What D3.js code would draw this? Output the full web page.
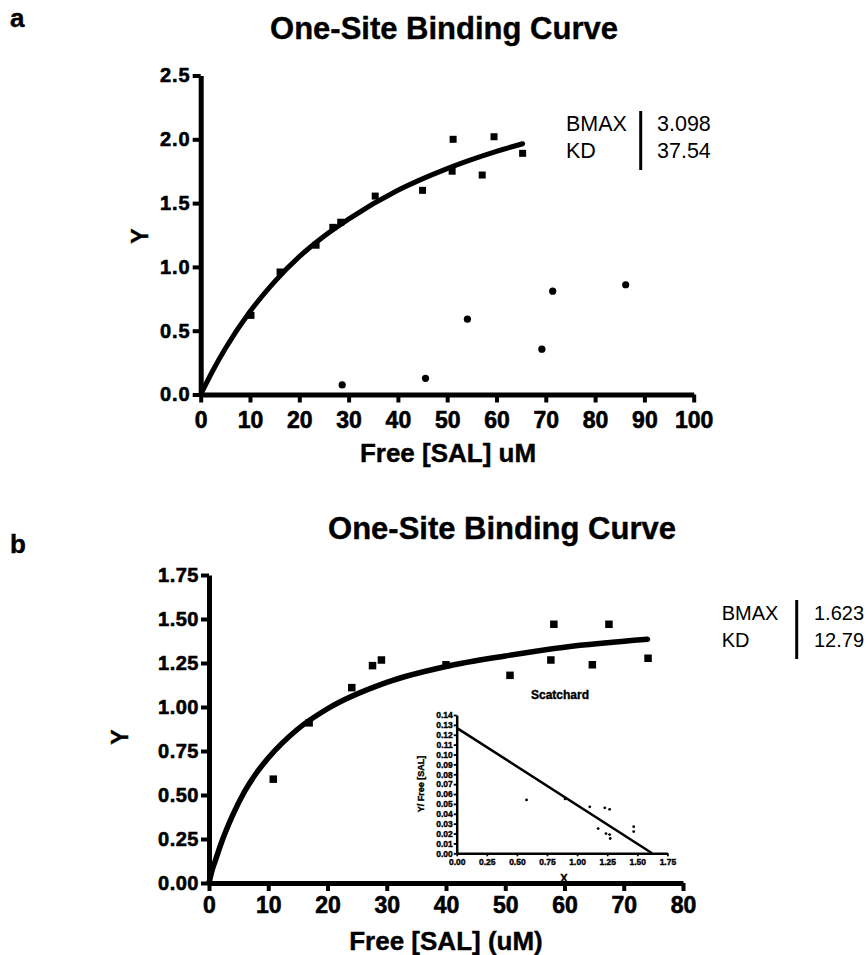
<!DOCTYPE html>
<html>
<head>
<title>One-Site Binding Curve</title>
<script src="https://d3js.org/d3.v7.min.js"></script>
<style>
body { margin: 0; background: #fff; }
text { font-family: "Liberation Sans", Arial, Helvetica, sans-serif; fill: #000; }
.axis path, .axis line { stroke: #000; }
.axis text { font-weight: bold; fill: #000; stroke: #000; stroke-width: 0.5px; }
.heavy { font-weight: bold; stroke: #000; stroke-width: 0.4px; }
</style>
</head>
<body>
<script>

// ---- panel a data ----
var titleA = "One-Site Binding Curve";
var xTicksA = [0, 10, 20, 30, 40, 50, 60, 70, 80, 90, 100];
var yTicksA = [0.0, 0.5, 1.0, 1.5, 2.0, 2.5];
var squaresA = [[10.2, 0.62], [16.1, 0.96], [23.4, 1.17], [26.8, 1.31], [28.4, 1.35],
	[35.4, 1.555], [45.0, 1.60], [51.2, 2.00], [51.0, 1.75], [57.1, 1.72],
	[59.5, 2.02], [65.3, 1.89]];
var circlesA = [[28.7, 0.075], [45.6, 0.127], [54.1, 0.59], [69.2, 0.355], [71.4, 0.81], [86.2, 0.86]];
var curveA = [[0, 0], [2.5, 0.19], [5, 0.36], [10, 0.65], [15, 0.885], [20, 1.08], [25, 1.24],
	[30, 1.375], [40, 1.60], [50, 1.77], [60, 1.905], [65.3, 1.965]];
var legendA = [["BMAX", "3.098"], ["KD", "37.54"]];

// ---- panel b data ----
var titleB = "One-Site Binding Curve";
var xTicksB = [0, 10, 20, 30, 40, 50, 60, 70, 80];
var yTicksB = [0.00, 0.25, 0.50, 0.75, 1.00, 1.25, 1.50, 1.75];
var squaresB = [[10.85, 0.59], [16.9, 0.91], [24.1, 1.11], [27.6, 1.235], [29.1, 1.267],
	[40.0, 1.24], [50.8, 1.18], [58.2, 1.47], [57.7, 1.267], [64.7, 1.24],
	[67.5, 1.47], [74.1, 1.277]];
var curveB = [[0, 0], [0.5, 0.07], [1, 0.12], [2, 0.22], [4, 0.385], [6, 0.52], [8, 0.625], [10, 0.71],
	[15, 0.875], [20, 0.99], [30, 1.14], [40, 1.23], [50, 1.29], [60, 1.34], [74, 1.385]];
var legendB = [["BMAX", "1.623"], ["KD", "12.79"]];

// ---- inset (Scatchard) data ----
var xTicksI = [0, 0.25, 0.5, 0.75, 1.0, 1.25, 1.5, 1.75];
var yTicksI = [0, 0.01, 0.02, 0.03, 0.04, 0.05, 0.06, 0.07, 0.08, 0.09, 0.10, 0.11, 0.12, 0.13, 0.14];
var pointsI = [[0.58, 0.054], [0.90, 0.055], [1.105, 0.047], [1.23, 0.046], [1.27, 0.0445],
	[1.175, 0.025], [1.24, 0.020], [1.27, 0.019], [1.275, 0.015], [1.47, 0.022], [1.47, 0.027]];
var lineI = [[0, 0.127], [1.623, 0]];


var svg = d3.select("body").append("svg")
	.attr("width", 867)
	.attr("height", 955);

function drawAxes(g, x, y, xt, yt, xfmt, yfmt, opts){
	var ax = g.append("g")
		.attr("class", "axis")
		.attr("transform", "translate(0," + y(0) + ")")
		.call(d3.axisBottom(x).tickValues(xt).tickFormat(xfmt)
			.tickSize(opts.tick).tickSizeOuter(0).tickPadding(opts.xpad));
	ax.select(".domain").attr("stroke-width", opts.axisW);
	ax.selectAll(".tick line").attr("stroke-width", opts.tickW);
	ax.selectAll("text").style("font-size", opts.xfont + "px")
		.style("stroke-width", opts.textStroke + "px");

	var ay = g.append("g")
		.attr("class", "axis")
		.attr("transform", "translate(" + x(0) + ",0)")
		.call(d3.axisLeft(y).tickValues(yt).tickFormat(yfmt)
			.tickSize(opts.tick).tickSizeOuter(0).tickPadding(opts.ypad));
	ay.select(".domain").attr("stroke-width", opts.axisW);
	ay.selectAll(".tick line").attr("stroke-width", opts.tickW);
	ay.selectAll("text").style("font-size", opts.yfont + "px")
		.style("letter-spacing", opts.yspace + "px")
		.style("stroke-width", opts.textStroke + "px");
}

function drawLegend(rows, x0, xbar, xval, y0, dy, size){
	var lg = svg.append("g");
	rows.forEach(function(r, i){
		lg.append("text").attr("x", x0).attr("y", y0 + i * dy)
			.style("font-size", size + "px").text(r[0]);
		lg.append("text").attr("x", xval).attr("y", y0 + i * dy)
			.style("font-size", size + "px").text(r[1]);
	});
	lg.append("line")
		.attr("x1", xbar).attr("x2", xbar)
		.attr("y1", y0 - 20).attr("y2", y0 + dy + 12)
		.attr("stroke", "#000").attr("stroke-width", 3);
}

var line = function(x, y){
	return d3.line()
		.x(function(d){ return x(d[0]); })
		.y(function(d){ return y(d[1]); })
		.curve(d3.curveMonotoneX);
};

// ================= panel a =================
var xA = d3.scaleLinear().domain([0, 100]).range([200.7, 693.7]);
var yA = d3.scaleLinear().domain([0, 2.5]).range([394.5, 75.5]);
var gA = svg.append("g");

svg.append("text").attr("x", 10).attr("y", 27).attr("class", "heavy")
	.style("font-size", "26px").text("a");
svg.append("text").attr("x", 444).attr("y", 39).attr("text-anchor", "middle").attr("class", "heavy")
	.style("font-size", "31px").text(titleA);

drawAxes(gA, xA, yA, xTicksA, yTicksA, d3.format("d"), d3.format(".1f"),
	{tick: 8, xpad: 9, ypad: 2, axisW: 5, tickW: 4, xfont: 23, yfont: 20, yspace: 1, textStroke: 0.6});

gA.append("path").datum(curveA)
	.attr("d", line(xA, yA))
	.attr("fill", "none").attr("stroke", "#000").attr("stroke-width", 5)
	.attr("stroke-linecap", "round");

gA.selectAll("rect.sq").data(squaresA).enter().append("rect")
	.attr("class", "sq")
	.attr("x", function(d){ return xA(d[0]) - 3.5; })
	.attr("y", function(d){ return yA(d[1]) - 3.5; })
	.attr("width", 7).attr("height", 7)
	.attr("fill", "#000");

gA.selectAll("circle").data(circlesA).enter().append("circle")
	.attr("cx", function(d){ return xA(d[0]); })
	.attr("cy", function(d){ return yA(d[1]); })
	.attr("r", 3.6)
	.attr("fill", "#000");

svg.append("text").attr("x", 448).attr("y", 462).attr("text-anchor", "middle").attr("class", "heavy")
	.style("font-size", "26px").text("Free [SAL] uM");
svg.append("text").attr("transform", "translate(148,236) rotate(-90)")
	.attr("text-anchor", "middle").attr("class", "heavy")
	.style("font-size", "23px").text("Y");

drawLegend(legendA, 566, 640.7, 657, 131, 27, 21.5);

// ================= panel b =================
var xB = d3.scaleLinear().domain([0, 80]).range([209, 683]);
var yB = d3.scaleLinear().domain([0, 1.75]).range([883, 575]);
var gB = svg.append("g");

svg.append("text").attr("x", 10).attr("y", 553).attr("class", "heavy")
	.style("font-size", "26px").text("b");
svg.append("text").attr("x", 502).attr("y", 539).attr("text-anchor", "middle").attr("class", "heavy")
	.style("font-size", "31px").text(titleB);

drawAxes(gB, xB, yB, xTicksB, yTicksB, d3.format("d"), d3.format(".2f"),
	{tick: 8, xpad: 6, ypad: 2, axisW: 5, tickW: 4, xfont: 23, yfont: 20, yspace: 0.5, textStroke: 0.6});

gB.append("path").datum(curveB)
	.attr("d", line(xB, yB))
	.attr("fill", "none").attr("stroke", "#000").attr("stroke-width", 5.5)
	.attr("stroke-linecap", "round");

gB.selectAll("rect.sq").data(squaresB).enter().append("rect")
	.attr("class", "sq")
	.attr("x", function(d){ return xB(d[0]) - 3.75; })
	.attr("y", function(d){ return yB(d[1]) - 3.75; })
	.attr("width", 7.5).attr("height", 7.5)
	.attr("fill", "#000");

svg.append("text").attr("x", 446).attr("y", 950).attr("text-anchor", "middle").attr("class", "heavy")
	.style("font-size", "26px").text("Free [SAL] (uM)");
svg.append("text").attr("transform", "translate(128,737) rotate(-90)")
	.attr("text-anchor", "middle").attr("class", "heavy")
	.style("font-size", "23px").text("Y");

drawLegend(legendB, 721.7, 796.7, 814, 620, 27, 20);

// ================= inset =================
var xI = d3.scaleLinear().domain([0, 1.75]).range([456.7, 667.4]);
var yI = d3.scaleLinear().domain([0, 0.14]).range([853.3, 715]);
var gI = svg.append("g");

svg.append("text").attr("x", 560).attr("y", 699).attr("text-anchor", "middle").attr("class", "heavy")
	.style("font-size", "12px").text("Scatchard");

drawAxes(gI, xI, yI, xTicksI, yTicksI, d3.format(".2f"), d3.format(".2f"),
	{tick: 3, xpad: 3, ypad: 1, axisW: 2.5, tickW: 1.8, xfont: 8.5, yfont: 8.5, yspace: 0, textStroke: 0.4});

gI.append("path").datum(lineI)
	.attr("d", d3.line().x(function(d){ return xI(d[0]); }).y(function(d){ return yI(d[1]); }))
	.attr("fill", "none").attr("stroke", "#000").attr("stroke-width", 2.5);

gI.selectAll("circle").data(pointsI).enter().append("circle")
	.attr("cx", function(d){ return xI(d[0]); })
	.attr("cy", function(d){ return yI(d[1]); })
	.attr("r", 1.4)
	.attr("fill", "#000");

svg.append("text").attr("transform", "translate(424,784) rotate(-90)")
	.attr("text-anchor", "middle").attr("class", "heavy")
	.style("font-size", "9px").text("Y/ Free [SAL]");
svg.append("text").attr("x", 564).attr("y", 882).attr("text-anchor", "middle").attr("class", "heavy")
	.style("font-size", "11px").text("X");

</script>
</body>
</html>
